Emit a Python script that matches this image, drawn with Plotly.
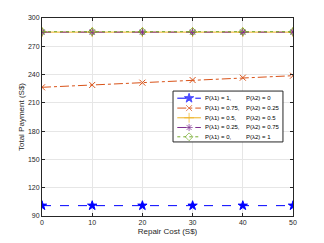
import plotly.graph_objects as go

repair_cost = [0, 10, 20, 30, 40, 50]
s1 = [101, 101, 101, 101, 101, 101]
s2 = [226.5, 229, 231.4, 234.2, 236.7, 238.8]
s3 = [285, 285, 285, 285, 285, 285]
s4 = [285, 285, 285, 285, 285, 285]
s5 = [285.5, 285.5, 285.5, 285.5, 285.5, 285.5]
legend_p1 = ["P(λ1) = 1,", "P(λ1) = 0.75,", "P(λ1) = 0.5,", "P(λ1) = 0.25,", "P(λ1) = 0,"]
legend_p2 = ["P(λ2) = 0", "P(λ2) = 0.25", "P(λ2) = 0.5", "P(λ2) = 0.75", "P(λ2) = 1"]
yticks = [90, 120, 150, 180, 210, 240, 270, 300]
xticks = [0, 10, 20, 30, 40, 50]

styles = [
    ("#0000FF", "dash", "star", 7),
    ("#D95319", "dashdot", "x-thin-open", 6),
    ("#EDB120", "solid", "cross-thin-open", 7),
    ("#7E2F8E", "dash", "asterisk-open", 6),
    ("#77AC30", "dot", "diamond-open", 6),
]
data = [s1, s2, s3, s4, s5]

FONT = "Liberation Sans, Arial, sans-serif"
fig = go.Figure()
for ys, (color, dash, sym, size), n1, n2 in zip(data, styles, legend_p1, legend_p2):
    fig.add_trace(go.Scatter(
        x=repair_cost, y=ys, name=n1 + " " + n2, mode="lines+markers",
        line=dict(color=color, dash=dash, width=1),
        marker=dict(symbol=sym, size=size, color=color,
                    line=dict(color=color, width=1)),
        showlegend=False,
    ))

# custom compact legend on hidden overlay axes spanning [0,1] of the plot area
box_x0, box_x1, box_y0, box_y1 = 0.522, 0.960, 0.374, 0.631
fig.add_trace(go.Scatter(
    x=[box_x0, box_x1, box_x1, box_x0, box_x0],
    y=[box_y0, box_y0, box_y1, box_y1, box_y0],
    xaxis="x2", yaxis="y2", mode="lines", fill="toself", fillcolor="white",
    line=dict(color="#262626", width=1), showlegend=False, hoverinfo="skip",
))
row_y = [0.595, 0.545, 0.496, 0.447, 0.400]
lx0, lxm, lx1 = 0.539, 0.586, 0.633
for i, ((color, dash, sym, size), n1, n2) in enumerate(zip(styles, legend_p1, legend_p2)):
    fig.add_trace(go.Scatter(
        x=[lx0, lxm, lx1], y=[row_y[i]] * 3, xaxis="x2", yaxis="y2",
        mode="lines+markers", showlegend=False, hoverinfo="skip",
        line=dict(color=color, dash=dash, width=1),
        marker=dict(symbol=sym, size=[0, size, 0], color=color,
                    line=dict(color=color, width=1)),
    ))
    fig.add_annotation(xref="x domain", yref="y domain", x=0.642, y=row_y[i],
                       text=n1, showarrow=False, xanchor="left", yanchor="middle",
                       font=dict(family=FONT, size=6, color="#000000"))
    fig.add_annotation(xref="x domain", yref="y domain", x=0.805, y=row_y[i],
                       text=n2, showarrow=False, xanchor="left", yanchor="middle",
                       font=dict(family=FONT, size=6, color="#000000"))

axis_common = dict(
    showline=True, linecolor="#262626", linewidth=1, mirror="ticks",
    showgrid=True, gridcolor="#E6E6E6", gridwidth=1, zeroline=False,
    ticks="inside", ticklen=3, tickcolor="#262626",
    tickfont=dict(family=FONT, size=7, color="#262626"),
)
fig.update_xaxes(range=[0, 50], tickvals=xticks,
                 title=dict(text="Repair Cost (S$)", font=dict(family=FONT, size=8, color="#262626"), standoff=2),
                 **axis_common)
fig.update_yaxes(range=[90, 300], tickvals=yticks,
                 title=dict(text="Total Payment (S$)", font=dict(family=FONT, size=8, color="#262626"), standoff=2),
                 **axis_common)
fig.update_layout(
    xaxis2=dict(overlaying="x", range=[0, 1], visible=False, fixedrange=True),
    yaxis2=dict(overlaying="y", range=[0, 1], visible=False, fixedrange=True),
)
# page body has an 8px default margin; compensate so the plot area lands in place
fig.update_layout(
    width=316, height=235,
    margin=dict(l=34, r=31, t=10, b=27, autoexpand=False),
    paper_bgcolor="white", plot_bgcolor="white",
    showlegend=False,
)
fig.write_html("out.html")
